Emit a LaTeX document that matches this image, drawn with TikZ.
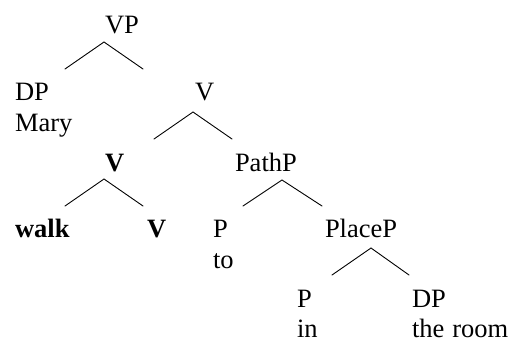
\documentclass[tikz,border=0pt]{standalone}
\usepackage{fontspec}
\setmainfont{Liberation Serif}
\usetikzlibrary{calc}
\tikzset{
	lbl/.style   ={anchor=base west, inner sep=0pt, outer sep=0pt},
	word/.style  ={lbl},
	branch/.style={line width=0.9bp, line cap=round},
}

\begin{document}
\begin{tikzpicture}[x=1bp, y=-1bp, font=\fontsize{26.5bp}{31bp}\selectfont]
	\useasboundingbox (0,0) rectangle (511,341);
	% labels, row by row
	\node[lbl] (vp) at (105,33) {VP};
	\node[lbl] (dpA) at (15,100) {DP};
	\node[word] (mary) at ($(dpA.base west)+(0,31)$) {Mary};
	\node[lbl] (vbar) at (195,100) {V};
	\node[lbl] (vB) at (105,171) {\textbf{V}};
	\node[lbl] (pathp) at (235,171) {PathP};
	\node[lbl] (walk) at (15,237) {\textbf{walk}};
	\node[lbl] (vC) at (147,237) {\textbf{V}};
	\node[lbl] (pA) at (213,237) {P};
	\node[word] (to) at ($(pA.base west)+(0,31)$) {to};
	\node[lbl] (placep) at (325,237) {PlaceP};
	\node[lbl] (pB) at (297,307) {P};
	\node[word] (in) at ($(pB.base west)+(0,30)$) {in};
	\node[lbl] (dpB) at (412,307) {DP};
	\node[word] (room) at ($(dpB.base west)+(0,30)$) {the\hspace{0.3em}room};
	% forks
	\coordinate (vpF) at (104,42);
	\coordinate (vbarF) at (193,112);
	\coordinate (vBF) at (104,179);
	\coordinate (pathF) at (282,180);
	\coordinate (placeF) at (371,248);
	\draw[branch] (vpF) ++(-39,27) -- (vpF) -- ++(39,27);
	\draw[branch] (vbarF) ++(-39,27) -- (vbarF) -- ++(39,27);
	\draw[branch] (vBF) ++(-39,27) -- (vBF) -- ++(39,27);
	\draw[branch] (pathF) ++(-39,26) -- (pathF) -- ++(40,26);
	\draw[branch] (placeF) ++(-39,27) -- (placeF) -- ++(38,27);
\end{tikzpicture}
\end{document}
